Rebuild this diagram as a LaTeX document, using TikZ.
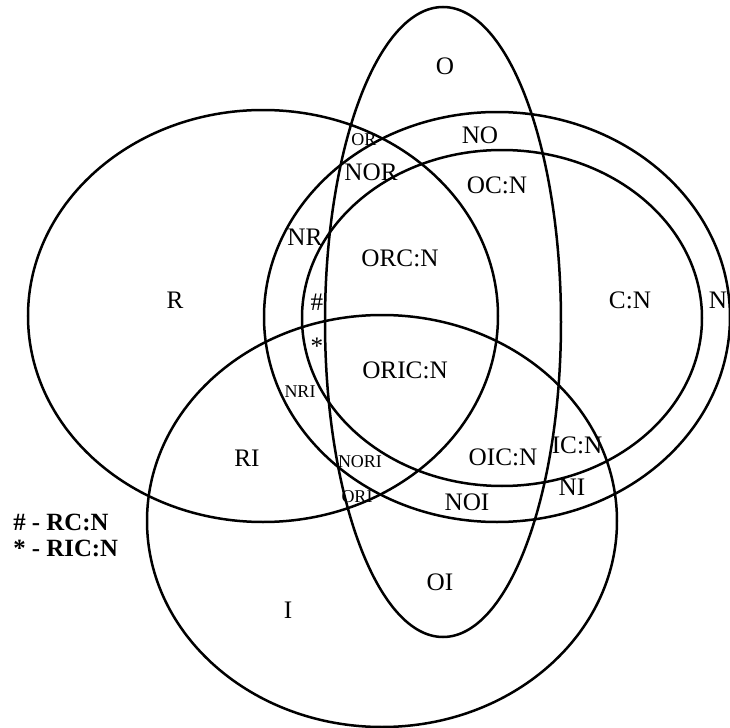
\documentclass[tikz,border=0pt]{standalone}
\usepackage{fontspec}
\setmainfont{Liberation Serif}
\begin{document}
\begin{tikzpicture}[x=0.5pt,y=-0.5pt,
  setline/.style={line width=1.25pt},
  lbl/.style={font=\fontsize{12.6}{14}\selectfont, inner sep=0pt},
  small/.style={font=\fontsize{9}{10}\selectfont, inner sep=0pt},
  legend/.style={font=\bfseries\fontsize{12.4}{14}\selectfont, inner sep=0pt, anchor=west}]
\useasboundingbox (0,0) rectangle (730,728);

% the five sets
\draw[setline] (263,316) ellipse [x radius=235, y radius=206]; % R
\draw[setline] (497,317) ellipse [x radius=233, y radius=205]; % N
\draw[setline] (502,318) ellipse [x radius=200, y radius=168]; % C:N
\draw[setline] (382,521) ellipse [x radius=235, y radius=206]; % I
\draw[setline] (443,322) ellipse [x radius=118, y radius=315]; % O

% region labels
\node[lbl] (lO)     at (445,66)  {O};
\node[lbl] (lNO)    at (480,135) {NO};
\node[small] (lOR)  at (364,140) {OR};
\node[lbl] (lNOR)   at (371,172) {NOR};
\node[lbl] (lOCN)   at (497,185) {OC:N};
\node[lbl] (lNR)    at (305,237) {NR};
\node[lbl] (lORCN)  at (400,258) {ORC:N};
\node[lbl] (lR)     at (175,300) {R};
\node[lbl] (lCN)    at (630,300) {C:N};
\node[lbl] (lN)     at (718,300) {N};
\node[lbl] (lhash)  at (317,302) {\#};
\node[lbl] (lstar)  at (317,346) {*};
\node[lbl] (lORICN) at (405,370) {ORIC:N};
\node[small] (lNRI) at (300,392) {NRI};
\node[lbl] (lICN)   at (577,445) {IC:N};
\node[lbl] (lOICN)  at (503,457) {OIC:N};
\node[lbl] (lRI)    at (247,458) {RI};
\node[small] (lNORI) at (360,462) {NORI};
\node[lbl] (lNI)    at (572,487) {NI};
\node[small] (lORI) at (357,497) {ORI};
\node[lbl] (lNOI)   at (467,502) {NOI};
\node[lbl] (lOI)    at (440,582) {OI};
\node[lbl] (lI)     at (288,610) {I};

% key
\node[legend] (key1) at (13,522) {\# - RC:N};
\node[legend] (key2) at (13,548) {* - RIC:N};
\end{tikzpicture}
\end{document}
